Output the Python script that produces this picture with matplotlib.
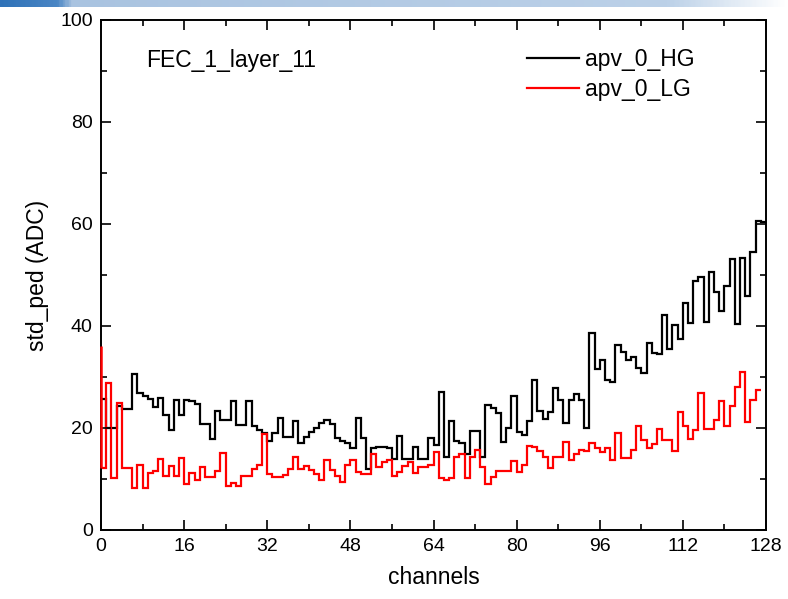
import numpy as np
import matplotlib
matplotlib.use("Agg")
import matplotlib.pyplot as plt
from matplotlib.colors import LinearSegmentedColormap

plt.rcParams["font.family"] = ["Liberation Sans", "DejaVu Sans"]

# std_ped per channel
hg_values = [
    25.6, 20.0, 20.0, 24.3, 23.8, 23.8, 30.5, 26.9, 26.3, 25.6, 24.2, 25.8, 22.5, 19.6, 25.5, 22.5,
    25.5, 25.3, 24.8, 20.7, 20.7, 17.8, 23.3, 21.6, 21.6, 25.2, 20.6, 20.6, 25.2, 20.3, 19.6, 19.1,
    17.5, 19.1, 21.9, 18.3, 18.3, 21.4, 17.0, 18.3, 19.3, 20.0, 21.0, 21.6, 20.7, 18.0, 17.5, 17.0,
    16.0, 21.9, 18.1, 11.9, 16.0, 16.3, 16.3, 16.0, 13.9, 18.4, 13.9, 13.9, 16.3, 13.9, 13.9, 18.0,
    16.7, 27.1, 14.4, 21.3, 17.5, 17.1, 15.0, 19.5, 19.5, 14.4, 24.5, 24.0, 22.9, 17.2, 20.0, 26.3,
    19.2, 18.6, 21.4, 29.5, 23.4, 21.7, 23.2, 27.8, 25.5, 21.0, 25.5, 26.6, 25.5, 20.0, 38.6, 31.6,
    33.3, 29.4, 29.0, 36.3, 35.0, 33.3, 34.0, 31.8, 30.7, 36.6, 34.7, 34.6, 42.2, 35.5, 40.1, 37.4,
    44.6, 40.6, 48.8, 49.6, 40.8, 50.5, 46.6, 42.9, 47.9, 53.1, 40.4, 53.4, 45.9, 54.6, 60.6, 60.3,
]
lg_values = [
    12.2, 28.8, 10.2, 24.9, 12.2, 12.2, 8.3, 12.7, 8.3, 11.2, 11.6, 14.0, 10.6, 12.6, 10.6, 14.2,
    9.0, 11.2, 9.9, 12.3, 10.3, 10.3, 11.6, 15.1, 8.6, 9.3, 8.6, 10.5, 10.5, 11.9, 12.7, 18.8,
    10.9, 10.3, 10.3, 10.8, 11.9, 14.4, 11.9, 12.5, 11.8, 10.9, 9.8, 13.7, 11.8, 10.5, 9.5, 12.7,
    13.7, 11.4, 10.9, 10.9, 15.0, 12.4, 13.4, 13.7, 10.5, 11.4, 12.5, 13.4, 11.1, 12.4, 12.4, 12.7,
    15.2, 10.1, 9.8, 10.1, 14.3, 14.9, 10.1, 14.3, 15.7, 12.4, 9.0, 10.3, 11.6, 11.6, 11.6, 13.5,
    11.4, 12.7, 16.5, 16.3, 15.4, 14.4, 12.1, 14.4, 14.4, 17.3, 13.7, 14.9, 15.7, 15.5, 17.0, 16.0,
    15.2, 16.1, 13.7, 19.0, 14.1, 14.1, 15.7, 20.4, 17.6, 16.0, 16.8, 19.9, 17.6, 17.6, 15.5, 23.2,
    20.4, 17.8, 19.6, 26.8, 19.8, 19.8, 21.6, 25.2, 20.4, 24.3, 28.1, 30.9, 21.2, 25.5, 27.5,
]
lg_start = 36.0  # spike drawn at channel 0

x_ticks = [0, 16, 32, 48, 64, 80, 96, 112, 128]
y_ticks = [0, 20, 40, 60, 80, 100]

fig = plt.figure(figsize=(7.88, 5.99), dpi=100)

# slide header strip
band = fig.add_axes([0, 1 - 7 / 599, 1, 7 / 599])
cmap = LinearSegmentedColormap.from_list(
    "hdr", [(0, "#2f72b8"), (0.07, "#4a86c4"), (0.09, "#a9c3e0"), (0.85, "#bcd1e8"), (1, "#ffffff")])
band.imshow(np.linspace(0, 1, 400)[None, :], aspect="auto", cmap=cmap)
band.axis("off")

ax = fig.add_axes([101 / 788, 69 / 599, 665 / 788, 510 / 599])

hg_edges = np.arange(len(hg_values) + 1)
lg_edges = np.arange(len(lg_values) + 1)
ax.stairs(hg_values, hg_edges, baseline=None, color="black", lw=1.6, label="apv_0_HG")
ax.stairs(lg_values, lg_edges, baseline=None, color="red", lw=1.6, label="apv_0_LG")
ax.vlines(0, lg_values[0], lg_start, color="red", lw=1.8, clip_on=False, zorder=5)

ax.set_xlim(0, 128)
ax.set_ylim(0, 100)
ax.set_xticks(x_ticks)
ax.set_xticks(np.arange(0, 129, 8), minor=True)
ax.set_yticks(y_ticks)
ax.set_yticks(np.arange(0, 101, 10), minor=True)
ax.tick_params(which="both", direction="in", top=True, right=True, labelsize=14, width=1.2)
ax.tick_params(which="major", length=7, pad=6)
ax.tick_params(which="minor", length=4)
for s in ax.spines.values():
    s.set_linewidth(1.4)

ax.set_xlabel("channels", fontsize=16.5, labelpad=8)
ax.set_ylabel("std_ped (ADC)", fontsize=16.5, labelpad=8)
ax.text(0.068, 0.92, "FEC_1_layer_11", transform=ax.transAxes, fontsize=16.5, va="center")
ax.legend(loc="upper left", bbox_to_anchor=(0.64, 0.945), frameon=False, fontsize=16.5,
          borderpad=0, borderaxespad=0, handlelength=2.3, handletextpad=0.25,
          labelspacing=0.3)

plt.savefig("out.png", dpi=100)
